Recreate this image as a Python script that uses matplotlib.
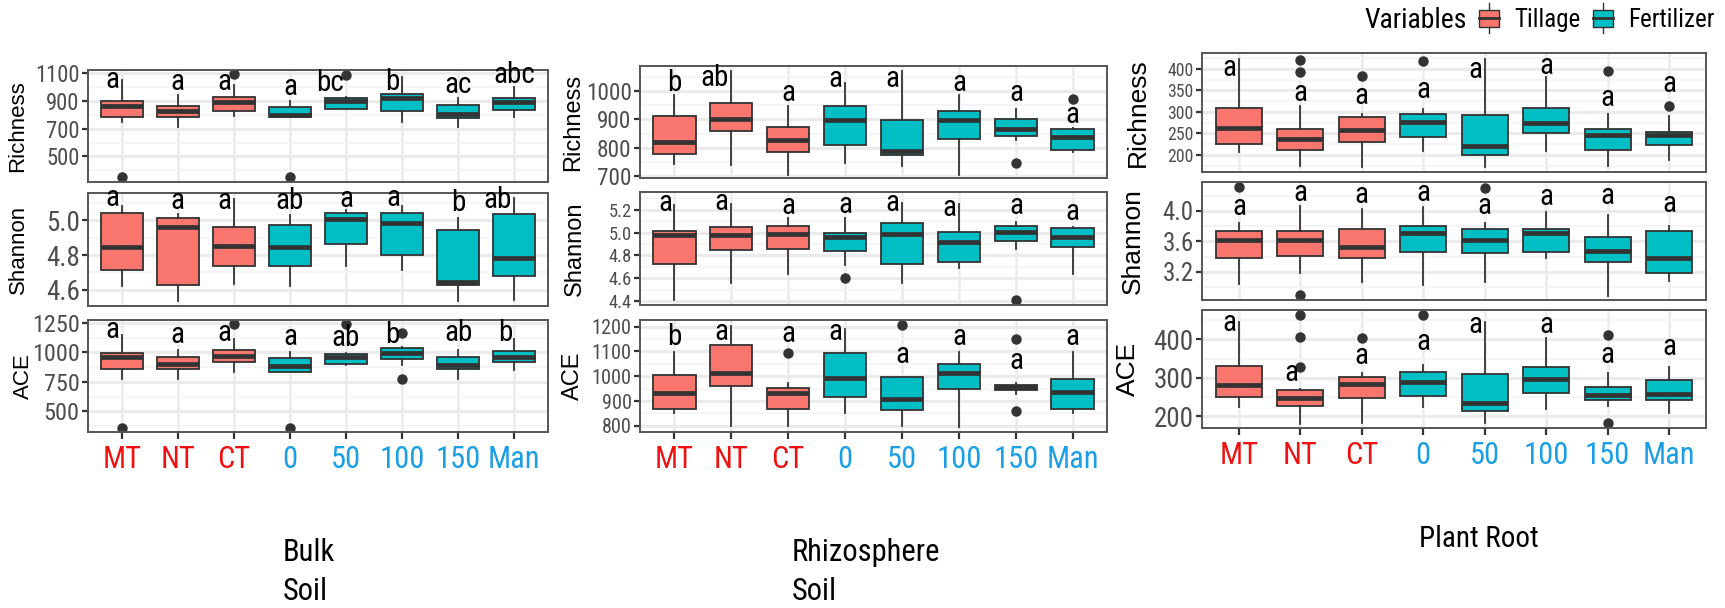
import matplotlib
matplotlib.use('Agg')
import matplotlib.pyplot as plt
from matplotlib import font_manager as fm
from matplotlib.ticker import MultipleLocator
from matplotlib.patches import Patch, Rectangle
from matplotlib.lines import Line2D
from matplotlib.legend_handler import HandlerBase

# ---- data ----
groups = ['MT', 'NT', 'CT', '0', '50', '100', '150', 'Man']
group_type = ['Tillage'] * 3 + ['Fertilizer'] * 5

# Bulk soil
bulk_rich_lo = [750, 710, 791, 782, 842, 750, 710, 787]
bulk_rich_q1 = [787, 782, 832, 782, 842, 832, 775, 835]
bulk_rich_med = [864, 828, 895, 799, 902, 926, 806, 895]
bulk_rich_q3 = [902, 866, 931, 859, 922, 955, 871, 926]
bulk_rich_hi = [1052, 943, 1016, 902, 931, 1076, 926, 1004]
bulk_rich_out = [[353], [], [1093], [353], [1088], [], [], []]
bulk_rich_let = ['a', 'a', 'a', 'a', 'bc', 'b', 'ac', 'abc']
bulk_rich_lety = [1052, 1040, 1040, 1004, 1028, 1040, 1016, 1088]

bulk_shan_lo = [4.621, 4.534, 4.635, 4.621, 4.738, 4.713, 4.534, 4.538]
bulk_shan_q1 = [4.713, 4.629, 4.738, 4.736, 4.864, 4.800, 4.629, 4.678]
bulk_shan_med = [4.845, 4.961, 4.852, 4.845, 5.008, 4.984, 4.645, 4.781]
bulk_shan_q3 = [5.043, 5.014, 4.965, 4.975, 5.043, 5.043, 4.942, 5.039]
bulk_shan_hi = [5.082, 5.039, 5.124, 5.033, 5.058, 5.082, 5.014, 5.130]
bulk_shan_out = [[], [], [], [], [], [], [], []]
bulk_shan_let = ['a', 'a', 'a', 'ab', 'a', 'a', 'b', 'ab']
bulk_shan_lety = [5.13, 5.11, 5.11, 5.11, 5.125, 5.13, 5.10, 5.12]

bulk_ace_lo = [779, 771, 836, 836, 892, 892, 771, 850]
bulk_ace_q1 = [858, 858, 921, 836, 901, 943, 864, 915]
bulk_ace_med = [958, 901, 969, 884, 963, 992, 892, 963]
bulk_ace_q3 = [997, 958, 1025, 949, 986, 1034, 963, 1014]
bulk_ace_hi = [1147, 1025, 1110, 1006, 997, 1048, 1025, 1110]
bulk_ace_out = [[363], [], [1238], [363], [1238], [1161, 779], [], []]
bulk_ace_let = ['a', 'a', 'a', 'a', 'ab', 'b', 'ab', 'b']
bulk_ace_lety = [1190, 1147, 1161, 1133, 1125, 1147, 1161, 1161]

# Rhizosphere soil
rhizo_rich_lo = [745, 738, 706, 747, 735, 706, 829, 785]
rhizo_rich_q1 = [779, 861, 786, 809, 774, 832, 841, 794]
rhizo_rich_med = [820, 900, 829, 898, 788, 898, 868, 838]
rhizo_rich_q3 = [912, 959, 873, 947, 899, 929, 902, 867]
rhizo_rich_hi = [985, 1071, 947, 1029, 1071, 985, 938, 871]
rhizo_rich_out = [[], [], [], [], [], [], [747], [973]]
rhizo_rich_let = ['b', 'ab', 'a', 'a', 'a', 'a', 'a', 'a']
rhizo_rich_lety = [1029, 1047, 994, 1041, 1044, 1029, 992, 914]

rhizo_shan_lo = [4.41, 4.557, 4.634, 4.714, 4.557, 4.69, 4.855, 4.634]
rhizo_shan_q1 = [4.723, 4.846, 4.855, 4.841, 4.728, 4.743, 4.929, 4.87]
rhizo_shan_med = [4.979, 4.979, 4.985, 4.959, 4.985, 4.917, 5.009, 4.959]
rhizo_shan_q3 = [5.018, 5.047, 5.059, 5.0, 5.089, 5.009, 5.062, 5.044]
rhizo_shan_hi = [5.245, 5.254, 5.127, 5.127, 5.26, 5.254, 5.097, 5.053]
rhizo_shan_out = [[], [], [], [4.604], [], [], [4.41], []]
rhizo_shan_let = ['a'] * 8
rhizo_shan_lety = [5.26, 5.27, 5.23, 5.245, 5.26, 5.215, 5.23, 5.18]

rhizo_ace_lo = [851, 800, 800, 851, 800, 797, 928, 851]
rhizo_ace_q1 = [868, 960, 867, 917, 864, 947, 944, 868]
rhizo_ace_med = [933, 1013, 931, 991, 908, 1013, 955, 936]
rhizo_ace_q3 = [1004, 1127, 953, 1093, 997, 1051, 964, 987]
rhizo_ace_hi = [1097, 1204, 973, 1191, 997, 1097, 973, 1097]
rhizo_ace_out = [[], [], [1093], [], [1208], [], [1151, 860], []]
rhizo_ace_let = ['b', 'a', 'a', 'a', 'a', 'a', 'a', 'a']
rhizo_ace_lety = [1157, 1177, 1171, 1177, 1084, 1157, 1060, 1157]

# Plant root
root_rich_lo = [206, 174, 171, 210, 171, 209, 174, 189]
root_rich_q1 = [226, 211, 229, 241, 199, 251, 211, 223]
root_rich_med = [263, 237, 257, 276, 220, 274, 245, 245]
root_rich_q3 = [308, 259, 288, 294, 292, 308, 260, 254]
root_rich_hi = [423, 313, 294, 307, 423, 381, 294, 290]
root_rich_out = [[], [421, 392], [383], [419], [], [], [395], [313]]
root_rich_let = ['a'] * 8
root_rich_lety = [402, 343, 338, 352, 398, 406, 333, 366]

root_shan_lo = [3.034, 3.187, 3.069, 3.025, 3.069, 3.375, 2.881, 3.082]
root_shan_q1 = [3.375, 3.405, 3.375, 3.462, 3.44, 3.453, 3.331, 3.187]
root_shan_med = [3.615, 3.615, 3.519, 3.703, 3.615, 3.703, 3.475, 3.375]
root_shan_q3 = [3.738, 3.738, 3.768, 3.799, 3.764, 3.764, 3.659, 3.738]
root_shan_hi = [3.843, 4.066, 4.031, 4.052, 3.843, 3.987, 3.943, 3.799]
root_shan_out = [[4.315], [2.894], [], [], [4.306], [], [], []]
root_shan_let = ['a'] * 8
root_shan_lety = [4.052, 4.24, 4.205, 4.236, 4.066, 4.184, 4.192, 4.087]

root_ace_lo = [224, 181, 184, 224, 184, 219, 228, 209]
root_ace_q1 = [250, 226, 247, 253, 213, 260, 243, 243]
root_ace_med = [282, 247, 284, 289, 234, 297, 256, 259]
root_ace_q3 = [332, 269, 303, 315, 309, 329, 276, 295]
root_ace_hi = [446, 272, 312, 334, 446, 403, 312, 327]
root_ace_out = [[], [463, 407, 328], [404], [463], [], [], [411, 183], []]
root_ace_let = ['a'] * 8
root_ace_lety = [441, 312, 357, 394, 437, 437, 359, 381]

# axis settings per sub-plot: (ylim, major ticks, minor step, fmt)
bulk_axes = [((315, 1125), [500, 700, 900, 1100], 100, '%d'),
             ((4.505, 5.159), [4.6, 4.8, 5.0], 0.1, '%.1f'),
             ((326, 1275), [500, 750, 1000, 1250], 125, '%d')]
rhizo_axes = [((694, 1088), [700, 800, 900, 1000], 50, '%d'),
              ((4.365, 5.357), [4.4, 4.6, 4.8, 5.0, 5.2], 0.1, '%.1f'),
              ((775, 1227), [800, 900, 1000, 1100, 1200], 50, '%d')]
root_axes = [((160, 437), [200, 250, 300, 350, 400], 25, '%d'),
             ((2.828, 4.38), [3.2, 3.6, 4.0], 0.2, '%.1f'),
             ((170, 476), [200, 300, 400], 50, '%d')]

metrics = ['Richness', 'Shannon', 'ACE']

TILL = '#F8766D'
FERT = '#00BFC4'
EDGE = '#333333'
RED = '#EE1111'
BLUE = '#1A9FE6'


def pick_narrow():
    wanted = ['Open Sans', 'Liberation Sans Narrow', 'Roboto Condensed', 'Roboto',
              'Noto Sans', 'DejaVu Sans']
    for name in wanted:
        for f in fm.fontManager.ttflist:
            if f.name != name or f.style != 'normal':
                continue
            if f.weight not in (400, 'normal', 'regular', 'book'):
                continue
            if 'condensed' in str(f.stretch) or 'Narrow' in name or 'Condensed' in name:
                return f.fname
    return None


narrow_path = pick_narrow()


def nfont(size):
    if narrow_path:
        return fm.FontProperties(fname=narrow_path, size=size)
    return fm.FontProperties(family='Liberation Sans', size=size * 0.85)


W, H = 1725, 608
fig = plt.figure(figsize=(W / 100, H / 100), dpi=100)


def px_axes(l, t, r, b):
    return fig.add_axes([l / W, 1 - b / H, (r - l) / W, (b - t) / H])


panels = [
    ('bulk', 88, 548, [(70, 182), (193, 306), (320, 432)], [18, 18, 23], 16, bulk_axes),
    ('rhizo', 640, 1107, [(66, 178), (192, 305), (320, 432)], [573, 575, 573], 17, rhizo_axes),
    ('root', 1202, 1706, [(53, 172), (182, 300), (310, 428)], [1138, 1133, 1128], 19, root_axes),
]

data = {
    ('bulk', 0): (bulk_rich_lo, bulk_rich_q1, bulk_rich_med, bulk_rich_q3, bulk_rich_hi, bulk_rich_out, bulk_rich_let, bulk_rich_lety),
    ('bulk', 1): (bulk_shan_lo, bulk_shan_q1, bulk_shan_med, bulk_shan_q3, bulk_shan_hi, bulk_shan_out, bulk_shan_let, bulk_shan_lety),
    ('bulk', 2): (bulk_ace_lo, bulk_ace_q1, bulk_ace_med, bulk_ace_q3, bulk_ace_hi, bulk_ace_out, bulk_ace_let, bulk_ace_lety),
    ('rhizo', 0): (rhizo_rich_lo, rhizo_rich_q1, rhizo_rich_med, rhizo_rich_q3, rhizo_rich_hi, rhizo_rich_out, rhizo_rich_let, rhizo_rich_lety),
    ('rhizo', 1): (rhizo_shan_lo, rhizo_shan_q1, rhizo_shan_med, rhizo_shan_q3, rhizo_shan_hi, rhizo_shan_out, rhizo_shan_let, rhizo_shan_lety),
    ('rhizo', 2): (rhizo_ace_lo, rhizo_ace_q1, rhizo_ace_med, rhizo_ace_q3, rhizo_ace_hi, rhizo_ace_out, rhizo_ace_let, rhizo_ace_lety),
    ('root', 0): (root_rich_lo, root_rich_q1, root_rich_med, root_rich_q3, root_rich_hi, root_rich_out, root_rich_let, root_rich_lety),
    ('root', 1): (root_shan_lo, root_shan_q1, root_shan_med, root_shan_q3, root_shan_hi, root_shan_out, root_shan_let, root_shan_lety),
    ('root', 2): (root_ace_lo, root_ace_q1, root_ace_med, root_ace_q3, root_ace_hi, root_ace_out, root_ace_let, root_ace_lety),
}

pos = list(range(1, len(groups) + 1))
fills = [TILL if g == 'Tillage' else FERT for g in group_type]
xcolors = [RED if g == 'Tillage' else BLUE for g in group_type]

for key, left, right, rows, ylab_x, ylab_size, axset in panels:
    for i, (top, bot) in enumerate(rows):
        ax = px_axes(left, top, right, bot)
        lo, q1, med, q3, hi, out, let, lety = data[(key, i)]
        ylim, yt, minor, fmt = axset[i]
        stats = [dict(whislo=a, q1=b, med=c, q3=d, whishi=e, fliers=f)
                 for a, b, c, d, e, f in zip(lo, q1, med, q3, hi, out)]
        bp = ax.bxp(stats, positions=pos, widths=0.75, patch_artist=True, showcaps=False,
                    boxprops=dict(edgecolor=EDGE, linewidth=1.3),
                    medianprops=dict(color=EDGE, linewidth=3.4, solid_capstyle='butt'),
                    whiskerprops=dict(color=EDGE, linewidth=1.3),
                    flierprops=dict(marker='o', markerfacecolor=EDGE, markeredgecolor=EDGE,
                                    markersize=6.5, linestyle='none'))
        for b, c in zip(bp['boxes'], fills):
            b.set_facecolor(c)

        # letters sit just left of the whisker / dot when they would hit it
        half = 10 * (ylim[1] - ylim[0]) / (bot - top)
        for x, t, y, h, o in zip(pos, let, lety, hi, out):
            hit = (y - half < h) or any(abs(v - y) < half for v in o)
            if hit:
                ax.text(x - 0.04, y, t, ha='right', va='center', color='black',
                        fontproperties=nfont(21), clip_on=False)
            else:
                ax.text(x, y, t, ha='center', va='center', color='black',
                        fontproperties=nfont(21), clip_on=False)

        ax.set_xlim(0.4, len(groups) + 0.6)
        ax.set_ylim(*ylim)
        # crowded tick columns get a smaller font so the labels do not collide
        gap_px = (yt[1] - yt[0]) / (ylim[1] - ylim[0]) * (bot - top)
        tick_size = min(19.5, gap_px / 1.22 * 0.72)
        ax.set_yticks(yt)
        ax.set_yticklabels([fmt % v for v in yt], fontproperties=nfont(tick_size),
                           color='#4D4D4D')
        ax.yaxis.set_minor_locator(MultipleLocator(minor))
        ax.set_xticks(pos)
        ax.set_axisbelow(True)
        ax.grid(True, axis='y', which='major', color='#EBEBEB', linewidth=2.2)
        ax.grid(True, axis='y', which='minor', color='#F3F3F3', linewidth=1.2)
        ax.grid(True, axis='x', which='major', color='#EBEBEB', linewidth=1.8)
        ax.tick_params(axis='y', which='major', length=4, width=1.6, color=EDGE, pad=2)
        ax.tick_params(axis='y', which='minor', left=False)
        for s in ax.spines.values():
            s.set_color('#555555')
            s.set_linewidth(1.4)
        if i == 2:
            ax.set_xticklabels(groups, fontproperties=nfont(22))
            for lab, c in zip(ax.get_xticklabels(), xcolors):
                lab.set_color(c)
            ax.tick_params(axis='x', length=5, width=1.6, color=EDGE, pad=4)
        else:
            ax.tick_params(axis='x', bottom=False, labelbottom=False)

        fig.text(ylab_x[i] / W, 1 - (top + bot) / 2 / H, metrics[i], rotation=90,
                 ha='center', va='center', family='Liberation Sans', fontsize=ylab_size)


# legend with little box glyphs
class BoxKey(HandlerBase):
    def create_artists(self, legend, orig, xd, yd, w, h, fs, trans):
        x0, y0 = -xd, -yd
        wl = Line2D([x0 + w / 2] * 2, [y0 - 0.35 * h, y0 + 1.35 * h], color=EDGE, lw=1.0,
                    transform=trans)
        r = Rectangle((x0, y0), w, h, facecolor=orig.get_facecolor(), edgecolor=EDGE, lw=1.0,
                      transform=trans)
        m = Line2D([x0, x0 + w], [y0 + h / 2] * 2, color=EDGE, lw=2.0, transform=trans)
        return [wl, r, m]


handles = [Patch(facecolor=TILL), Patch(facecolor=FERT)]
leg = fig.legend(handles, ['Tillage', 'Fertilizer'], handler_map={Patch: BoxKey()},
                 loc='center right', bbox_to_anchor=(1714 / W, 1 - 20 / H), ncol=2,
                 frameon=False, borderpad=0, borderaxespad=0, handlelength=0.8,
                 handleheight=0.7, handletextpad=0.6, columnspacing=0.5, prop=nfont(18))
fig.canvas.draw()
lb = leg.get_window_extent()
fig.text((lb.x0 - 12) / W, 1 - 20 / H, 'Variables', ha='right', va='center',
         fontproperties=nfont(20))

# site captions under each panel
fig.text(283 / W, 1 - 572 / H, 'Bulk\nSoil', ha='left', va='center', linespacing=1.45,
         fontproperties=nfont(22))
fig.text(792 / W, 1 - 572 / H, 'Rhizosphere\nSoil', ha='left', va='center', linespacing=1.45,
         fontproperties=nfont(22))
fig.text(1419 / W, 1 - 539 / H, 'Plant Root', ha='left', va='center',
         fontproperties=nfont(21))

fig.savefig('out.png', dpi=100)
